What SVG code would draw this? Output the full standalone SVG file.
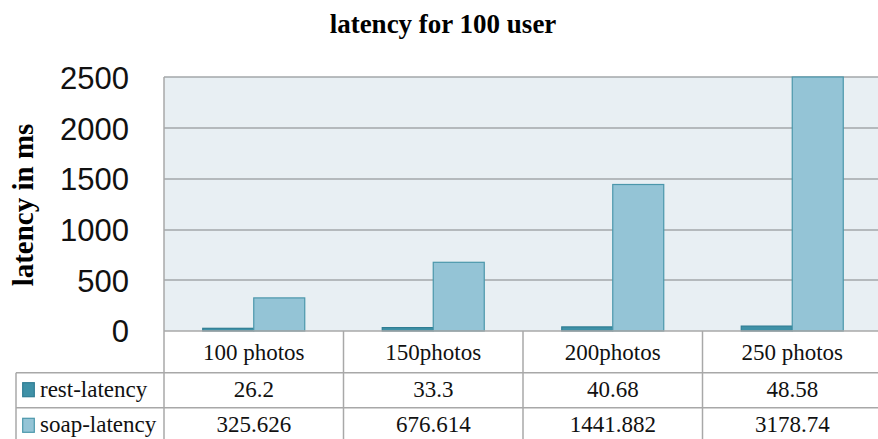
<svg xmlns="http://www.w3.org/2000/svg" width="878" height="439" viewBox="0 0 878 439">
<style>
.title{font-family:"Liberation Serif",serif;font-weight:bold;font-size:27px;fill:#000}
.ytitle{font-family:"Liberation Serif",serif;font-weight:bold;font-size:29px;fill:#000}
.tick{font-family:"Liberation Sans",sans-serif;font-size:31px;fill:#111;text-anchor:end}
.cell{font-family:"Liberation Serif",serif;font-size:23px;fill:#111;text-anchor:middle}
.leg{font-family:"Liberation Serif",serif;font-size:23px;fill:#111}
.grid{stroke:#a3a7aa;stroke-width:1.5}
.tbl{stroke:#a8a8a8;stroke-width:1.5;fill:none}
.rest{fill:#3f91a7;stroke:#2f7d93;stroke-width:1.2}
.soap{fill:#94c4d6;stroke:#4b97ab;stroke-width:1.2}
</style>
<rect width="878" height="439" fill="#ffffff"/>
<text class="title" x="443" y="33" text-anchor="middle">latency for 100 user</text>
<text class="ytitle" transform="translate(33,205) rotate(-90)" text-anchor="middle">latency in ms</text>
<g id="plot">
<rect x="164" y="77" width="714" height="254" fill="#e8eff3"/>
<line class="grid" x1="164" y1="77" x2="878" y2="77"/>
<line class="grid" x1="164" y1="128" x2="878" y2="128"/>
<line class="grid" x1="164" y1="179" x2="878" y2="179"/>
<line class="grid" x1="164" y1="230" x2="878" y2="230"/>
<line class="grid" x1="164" y1="280" x2="878" y2="280"/>
</g>
<g id="yaxis">
<text class="tick" x="129" y="89">2500</text>
<text class="tick" x="129" y="140">2000</text>
<text class="tick" x="129" y="190">1500</text>
<text class="tick" x="129" y="241">1000</text>
<text class="tick" x="129" y="292">500</text>
<text class="tick" x="129" y="342">0</text>
</g>
<g id="bars">
<rect class="rest" x="202.75" y="328.3" width="51" height="2.7"/>
<rect class="soap" x="253.75" y="297.9" width="51" height="33.1"/>
<rect class="rest" x="382.25" y="327.6" width="51" height="3.4"/>
<rect class="soap" x="433.25" y="262.3" width="51" height="68.7"/>
<rect class="rest" x="561.75" y="326.9" width="51" height="4.1"/>
<rect class="soap" x="612.75" y="184.5" width="51" height="146.5"/>
<rect class="rest" x="741.25" y="326.1" width="51" height="4.9"/>
<rect class="soap" x="792.25" y="77" width="51" height="254"/>
</g>
<g id="table">
<line class="tbl" x1="164" y1="331" x2="878" y2="331"/>
<line class="tbl" x1="16" y1="372.7" x2="878" y2="372.7"/>
<line class="tbl" x1="16" y1="407.7" x2="878" y2="407.7"/>
<line class="tbl" x1="16" y1="372.7" x2="16" y2="439"/>
<line class="tbl" x1="164" y1="77" x2="164" y2="439"/>
<line class="tbl" x1="343.5" y1="331" x2="343.5" y2="439"/>
<line class="tbl" x1="523" y1="331" x2="523" y2="439"/>
<line class="tbl" x1="702.5" y1="331" x2="702.5" y2="439"/>
<text class="cell" x="253.75" y="360">100 photos</text>
<text class="cell" x="433.25" y="360">150photos</text>
<text class="cell" x="612.75" y="360">200photos</text>
<text class="cell" x="792.25" y="360">250 photos</text>
<rect class="rest" x="22.7" y="382.7" width="11.6" height="14"/>
<text class="leg" x="40" y="396.7">rest-latency</text>
<rect class="soap" x="22.7" y="418.3" width="11.6" height="14"/>
<text class="leg" x="40" y="431.7">soap-latency</text>
<text class="cell" x="253.75" y="396.7">26.2</text>
<text class="cell" x="433.25" y="396.7">33.3</text>
<text class="cell" x="612.75" y="396.7">40.68</text>
<text class="cell" x="792.25" y="396.7">48.58</text>
<text class="cell" x="253.75" y="431.7">325.626</text>
<text class="cell" x="433.25" y="431.7">676.614</text>
<text class="cell" x="612.75" y="431.7">1441.882</text>
<text class="cell" x="792.25" y="431.7">3178.74</text>
</g>
</svg>
